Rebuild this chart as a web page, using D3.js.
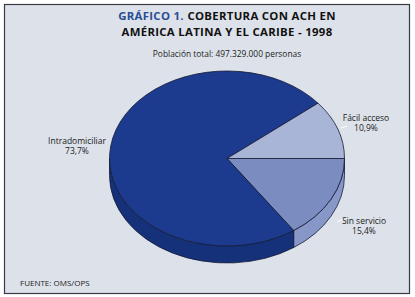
<!DOCTYPE html>
<html>
<head>
<meta charset="utf-8">
<script src="https://cdn.jsdelivr.net/npm/d3@7"></script>
<style>
    body { margin: 0; background: #ffffff; }
    svg { display: block; font-family: "Open Sans", "Noto Sans", sans-serif; }
</style>
</head>
<body>
<script>
// Data (drawing order: clockwise from 3 o'clock)
var categories = ["Sin servicio", "Intradomiciliar", "Fácil acceso"];
var values = [15.4, 73.7, 10.9];
var valueLabels = ["15,4%", "73,7%", "10,9%"];

var width = 415, height = 297;

// ellipse of the top face, plus the depth of the rim
var cx = 227, cy = 158.5, rx = 117.5, ry = 87.5, depth = 17;

var topColors = ["#7b8dc0", "#1c3a8e", "#a9b5d6"];
var sideColors = ["#8697c8", "#15317a", "#a9b5d6"];

var svg = d3.select("body").append("svg")
    .attr("width", width)
    .attr("height", height);

// paper + frame
svg.append("rect")
    .attr("width", width).attr("height", height)
    .attr("fill", "#ffffff");
svg.append("rect")
    .attr("x", 4.5).attr("y", 4.5)
    .attr("width", 405).attr("height", 289)
    .attr("fill", "#dde2ea")
    .attr("stroke", "#3a3a44").attr("stroke-width", 1.2);

// title, first line in two colours: measure both parts, then centre them
var titleSize = "11.4px", titleSpacing = "0.3px";
var t1a = svg.append("text")
    .attr("y", 20)
    .attr("font-size", titleSize).attr("font-weight", "bold")
    .attr("letter-spacing", titleSpacing)
    .attr("fill", "#2a4d94")
    .text("GRÁFICO 1.");
var t1b = svg.append("text")
    .attr("y", 20)
    .attr("font-size", titleSize).attr("font-weight", "bold")
    .attr("letter-spacing", titleSpacing)
    .attr("fill", "#111")
    .text("COBERTURA CON ACH EN");
var gap = 3.5;
var wa = t1a.node().getComputedTextLength();
var wb = t1b.node().getComputedTextLength();
var x0 = 227 - (wa + gap + wb) / 2;
t1a.attr("x", x0);
t1b.attr("x", x0 + wa + gap);

svg.append("text")
    .attr("x", 227).attr("y", 35.5)
    .attr("text-anchor", "middle")
    .attr("font-size", titleSize).attr("font-weight", "bold")
    .attr("letter-spacing", titleSpacing)
    .attr("fill", "#111")
    .text("AMÉRICA LATINA Y EL CARIBE - 1998");

svg.append("text")
    .attr("x", 227).attr("y", 57)
    .attr("text-anchor", "middle")
    .attr("font-size", "8.4px").attr("fill", "#222")
    .text("Población total: 497.329.000 personas");

// pie angles, d3 convention: clockwise from 12 o'clock
var pie = d3.pie().sort(null)
    .startAngle(Math.PI / 2)
    .endAngle(Math.PI / 2 + 2 * Math.PI);
var arcs = pie(values);

function pt(a, dy) {
    return [cx + rx * Math.sin(a), cy - ry * Math.cos(a) + (dy || 0)];
}

// rim: only the front half (3 o'clock -> 9 o'clock) is visible
var rim = svg.append("g");
arcs.forEach(function(d, i) {
    var s0 = Math.max(d.startAngle, Math.PI / 2);
    var s1 = Math.min(d.endAngle, 3 * Math.PI / 2);
    if (s1 <= s0) return;
    var p0 = pt(s0), p1 = pt(s1), q1 = pt(s1, depth), q0 = pt(s0, depth);
    var path = "M" + p0 + "A" + rx + "," + ry + " 0 0 1 " + p1 +
        "L" + q1 + "A" + rx + "," + ry + " 0 0 0 " + q0 + "Z";
    rim.append("path")
        .attr("d", path)
        .attr("fill", sideColors[i])
        .attr("stroke", "#141a33").attr("stroke-width", 0.8)
        .attr("stroke-linejoin", "round");
});

// top face slices
var faces = svg.append("g");
arcs.forEach(function(d, i) {
    var p0 = pt(d.startAngle), p1 = pt(d.endAngle);
    var large = (d.endAngle - d.startAngle) > Math.PI ? 1 : 0;
    var path = "M" + cx + "," + cy + "L" + p0 +
        "A" + rx + "," + ry + " 0 " + large + " 1 " + p1 + "Z";
    faces.append("path")
        .attr("d", path)
        .attr("fill", topColors[i])
        .attr("stroke", "#141a33").attr("stroke-width", 0.8)
        .attr("stroke-linejoin", "round");
});

// labels, two separate lines each
var labelPos = [
    {x: 364, y: 224},   // Sin servicio
    {x: 77, y: 144},    // Intradomiciliar
    {x: 366, y: 121}    // Fácil acceso
];
categories.forEach(function(c, i) {
    svg.append("text")
        .attr("x", labelPos[i].x).attr("y", labelPos[i].y)
        .attr("text-anchor", "middle")
        .attr("font-size", "8.5px").attr("fill", "#1a1a1a")
        .text(c);
    svg.append("text")
        .attr("x", labelPos[i].x).attr("y", labelPos[i].y + 9.5)
        .attr("text-anchor", "middle")
        .attr("font-size", "8.5px").attr("fill", "#1a1a1a")
        .text(valueLabels[i]);
});

// small white leader ticks next to the right-hand labels
svg.append("line")
    .attr("x1", 341).attr("y1", 128).attr("x2", 347).attr("y2", 126)
    .attr("stroke", "#ffffff").attr("stroke-width", 1);
svg.append("line")
    .attr("x1", 337).attr("y1", 222).attr("x2", 343).attr("y2", 219)
    .attr("stroke", "#ffffff").attr("stroke-width", 1);

svg.append("text")
    .attr("x", 20).attr("y", 286)
    .attr("font-size", "8px").attr("fill", "#1a1a1a")
    .text("FUENTE: OMS/OPS");
</script>
</body>
</html>
